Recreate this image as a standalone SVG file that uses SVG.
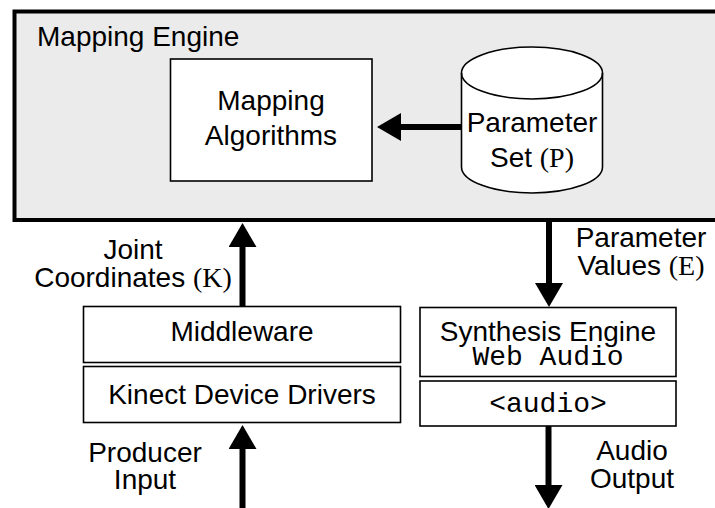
<svg xmlns="http://www.w3.org/2000/svg" width="715" height="508" viewBox="0 0 715 508">
<defs>
<style>
.t{font-family:"Liberation Sans",Arial,sans-serif;font-size:28px;fill:#000}
.m{font-family:"Liberation Mono","Courier New",monospace;font-size:28px;fill:#000}
.s{font-family:"Liberation Serif","Times New Roman",serif}
.box{fill:#fff;stroke:#000;stroke-width:1.6}
.arr{stroke:#000;stroke-width:6;fill:none;marker-end:url(#ah)}
</style>
<marker id="ah" viewBox="0 0 24 28" refX="2" refY="14" markerWidth="24" markerHeight="28" orient="auto" markerUnits="userSpaceOnUse">
<path d="M0,0 L24,14 L0,28 Z" fill="#000"/>
</marker>
</defs>
<g id="mapping-engine">
<rect x="14.5" y="11.5" width="720" height="208.5" fill="#ebebeb" stroke="#000" stroke-width="4"/>
<text class="t" x="37" y="46">Mapping Engine</text>
</g>
<g id="mapping-algorithms">
<rect class="box" x="170.5" y="59" width="201.5" height="122" stroke-width="2"/>
<text class="t" x="271" y="110" text-anchor="middle">Mapping</text>
<text class="t" x="271" y="145" text-anchor="middle">Algorithms</text>
</g>
<g id="parameter-set">
<path d="M461.5,73 L461.5,167 A70.5,26 0 0 0 602.5,167 L602.5,73 A70.5,26 0 0 0 461.5,73 Z" fill="#fff" stroke="#000" stroke-width="1.6"/>
<path d="M461.5,73 A70.5,26 0 0 0 602.5,73" fill="none" stroke="#000" stroke-width="1.6"/>
<text class="t" x="532" y="132" text-anchor="middle">Parameter</text>
<text class="t" x="532" y="167" text-anchor="middle">Set <tspan class="s">(P)</tspan></text>
</g>
<g id="middleware">
<rect class="box" x="83.5" y="306.5" width="317" height="56"/>
<text class="t" x="242" y="341" text-anchor="middle">Middleware</text>
</g>
<g id="kinect-drivers">
<rect class="box" x="83.5" y="366.5" width="317" height="56"/>
<text class="t" x="242" y="404" text-anchor="middle">Kinect Device Drivers</text>
</g>
<g id="synthesis-engine">
<rect class="box" x="420" y="307.5" width="256" height="69"/>
<text class="t" x="548" y="341" text-anchor="middle">Synthesis Engine</text>
<text class="m" x="548" y="365" text-anchor="middle">Web Audio</text>
</g>
<g id="audio-element">
<rect class="box" x="420" y="381" width="256" height="45"/>
<text class="m" x="548" y="412" text-anchor="middle">&lt;audio&gt;</text>
</g>
<g id="connectors">
<line class="arr" x1="462" y1="127" x2="399" y2="127"/>
<line class="arr" x1="242.5" y1="306.5" x2="242.5" y2="245"/>
<line class="arr" x1="242.5" y1="508" x2="242.5" y2="447"/>
<line class="arr" x1="549" y1="221" x2="549" y2="285"/>
<line class="arr" x1="548.5" y1="426" x2="548.5" y2="487"/>
</g>
<g id="labels">
<text class="t" x="133" y="259" text-anchor="middle">Joint</text>
<text class="t" x="133" y="287" text-anchor="middle">Coordinates <tspan class="s">(K)</tspan></text>
<text class="t" x="145" y="462" text-anchor="middle">Producer</text>
<text class="t" x="145" y="489" text-anchor="middle">Input</text>
<text class="t" x="641" y="247" text-anchor="middle">Parameter</text>
<text class="t" x="641" y="275" text-anchor="middle">Values <tspan class="s">(E)</tspan></text>
<text class="t" x="632" y="460" text-anchor="middle">Audio</text>
<text class="t" x="632" y="488" text-anchor="middle">Output</text>
</g>
</svg>
